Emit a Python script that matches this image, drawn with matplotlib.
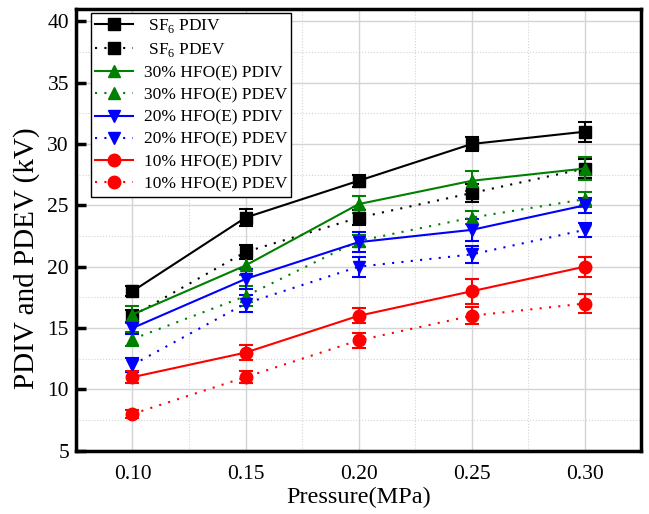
import numpy as np
import matplotlib
matplotlib.use("Agg")
from matplotlib import pyplot as plt
from matplotlib.ticker import MultipleLocator
from matplotlib.lines import Line2D

plt.rcParams['font.family'] = ['Liberation Serif', 'DejaVu Serif']
plt.rcParams['mathtext.fontset'] = 'custom'
plt.rcParams['mathtext.rm'] = 'Liberation Serif'

# pressure (MPa)
pressure = [0.10, 0.15, 0.20, 0.25, 0.30]

# voltages (kV)
sf6_pdiv = [18, 24, 27, 30, 31]
sf6_pdev = [16, 21.2, 24, 26, 28]
hfo30_pdiv = [16.1, 20.1, 25.1, 27, 28]
hfo30_pdev = [14.1, 17.6, 22.1, 24, 25.5]
hfo20_pdiv = [15, 19, 22, 23, 25]
hfo20_pdev = [12, 17, 20, 21, 23]
hfo10_pdiv = [11, 13, 16, 18, 20]
hfo10_pdev = [8, 11, 14, 16, 17]

# error bars (kV)
sf6_pdiv_err = [0.4, 0.7, 0.5, 0.6, 0.8]
sf6_pdev_err = [0.5, 0.6, 0.6, 0.7, 0.8]
hfo30_pdiv_err = [0.7, 0.8, 0.7, 0.8, 0.9]
hfo30_pdev_err = [0.6, 0.8, 0.5, 0.5, 0.6]
hfo20_pdiv_err = [0.5, 0.8, 0.8, 0.9, 0.6]
hfo20_pdev_err = [0.6, 0.7, 0.8, 0.7, 0.6]
hfo10_pdiv_err = [0.5, 0.6, 0.6, 1.0, 0.8]
hfo10_pdev_err = [0.3, 0.5, 0.6, 0.7, 0.8]

labels = [" SF$_6$ PDIV", " SF$_6$ PDEV",
          "30% HFO(E) PDIV", "30% HFO(E) PDEV",
          "20% HFO(E) PDIV", "20% HFO(E) PDEV",
          "10% HFO(E) PDIV", "10% HFO(E) PDEV"]
series = [sf6_pdiv, sf6_pdev, hfo30_pdiv, hfo30_pdev,
          hfo20_pdiv, hfo20_pdev, hfo10_pdiv, hfo10_pdev]
errors = [sf6_pdiv_err, sf6_pdev_err, hfo30_pdiv_err, hfo30_pdev_err,
          hfo20_pdiv_err, hfo20_pdev_err, hfo10_pdiv_err, hfo10_pdev_err]
colors = ['black', 'black', 'green', 'green', 'blue', 'blue', 'red', 'red']
markers = ['s', 's', '^', '^', 'v', 'v', 'o', 'o']
dotted = (0, (1, 3.5))
styles = ['-', dotted, '-', dotted, '-', dotted, '-', dotted]

fig = plt.figure(figsize=(6.49, 5.14), dpi=100)
ax = fig.add_axes([0.117, 0.123, 0.871, 0.8595])

handles = []
for y, e, c, m, ls, lab in zip(series, errors, colors, markers, styles, labels):
    ax.errorbar(pressure, y, yerr=e, color=c, marker=m, ls=ls, lw=1.5,
                markersize=9, capsize=5, capthick=1.5, elinewidth=1.5)
    handles.append(Line2D([], [], color=c, marker=m, ls=ls, lw=1.5,
                          markersize=9, label=lab))

ax.set_xlim(0.075, 0.325)
ax.set_ylim(5, 41)
ax.set_xticks(pressure)
ax.set_xticklabels(["0.10", "0.15", "0.20", "0.25", "0.30"])
ax.yaxis.set_major_locator(MultipleLocator(5))
ax.xaxis.set_minor_locator(MultipleLocator(0.025))
ax.yaxis.set_minor_locator(MultipleLocator(2.5))
ax.grid(which='major', color='#d4d4d4', lw=1.0)
ax.grid(which='minor', color='#d4d4d4', lw=0.8, ls=':')
ax.set_axisbelow(True)

ax.tick_params(axis='y', which='major', direction='in', length=7, width=2.5,
               labelsize=15.5, pad=5)
ax.tick_params(axis='x', which='major', length=0, labelsize=15.5, pad=10)
ax.tick_params(which='minor', length=0)
for sp in ax.spines.values():
    sp.set_linewidth(2.5)

ax.set_xlabel("Pressure(MPa)", fontsize=17.5, labelpad=2)
ax.set_ylabel("PDIV and PDEV (kV)", fontsize=21)
ax.yaxis.set_label_coords(-0.064, 0.435)

leg = ax.legend(handles=handles, loc='upper left',
                bbox_to_anchor=(0.026, 0.992), fontsize=12.5, frameon=True,
                fancybox=False, edgecolor='black', framealpha=1,
                borderaxespad=0, handlelength=2.2, labelspacing=0.35,
                borderpad=0.25, handletextpad=0.6)
leg.get_frame().set_linewidth(1.0)

fig.savefig("out.png", dpi=100)
